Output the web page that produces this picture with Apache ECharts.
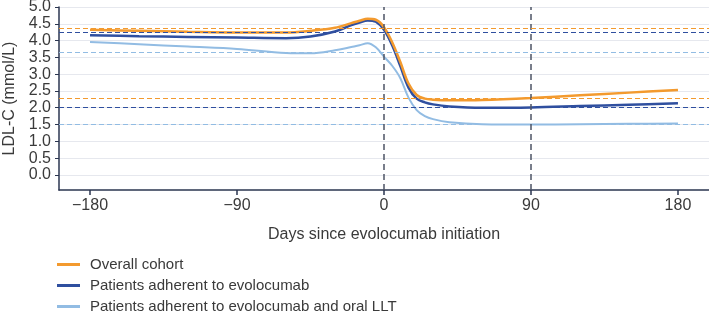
<!DOCTYPE html>
<html>
<head>
<meta charset="utf-8">
<script src="https://cdn.jsdelivr.net/npm/echarts@6/dist/echarts.min.js"></script>
<style>
  html, body { margin: 0; padding: 0; background: #fff; }
  #chart { width: 709px; height: 311px; }
</style>
</head>
<body>
<div id="chart"></div>
<script>
// days relative to evolocumab initiation
const days = [-180, -150, -120, -90, -60, -45, -30, -20, -15, -10, -5, 0, 5, 10, 15, 20, 25, 30, 40, 60, 90, 120, 150, 180]

const overall = [4.32, 4.29, 4.26, 4.24, 4.24, 4.29, 4.38, 4.52, 4.59, 4.65, 4.62, 4.40, 3.95, 3.36, 2.72, 2.38, 2.27, 2.24, 2.22, 2.23, 2.29, 2.37, 2.45, 2.53]
const adherent = [4.16, 4.13, 4.11, 4.09, 4.07, 4.12, 4.27, 4.46, 4.54, 4.60, 4.56, 4.32, 3.86, 3.24, 2.60, 2.27, 2.16, 2.10, 2.04, 2.00, 2.01, 2.05, 2.09, 2.13]
const adherentLlt = [3.96, 3.89, 3.82, 3.75, 3.63, 3.62, 3.71, 3.81, 3.86, 3.92, 3.80, 3.52, 3.25, 2.88, 2.30, 1.93, 1.75, 1.66, 1.57, 1.51, 1.50, 1.51, 1.52, 1.53]

// reference levels (before / after)
const overallRef = [4.37, 2.28]
const adherentRef = [4.25, 2.01]
const adherentLltRef = [3.65, 1.51]

const xTicks = [-180, -90, 0, 90, 180]
const yTicks = [0, 0.5, 1, 1.5, 2, 2.5, 3, 3.5, 4, 4.5, 5]
const vLines = [0, 90]

const names = ['Overall cohort', 'Patients adherent to evolocumab', 'Patients adherent to evolocumab and oral LLT']
const colors = ['#F39A2E', '#2F4F9F', '#92BCE3']

const font = 'Liberation Sans, Arial, sans-serif'

function makeSeries(name, values, refs, color, width, extra) {
  const lines = refs.map(v => ({ yAxis: v, lineStyle: { color: color, type: [5, 3], width: 1.2 } }))
  if (extra) {
    extra.forEach(v => lines.push({ xAxis: v, lineStyle: { color: '#4d5466', type: [6, 4], width: 1.5 } }))
  }
  return {
    name: name,
    type: 'line',
    smooth: 0.35,
    symbol: 'none',
    data: days.map((d, i) => [d, values[i]]),
    lineStyle: { color: color, width: width },
    itemStyle: { color: color },
    markLine: {
      silent: true,
      symbol: 'none',
      label: { show: false },
      animation: false,
      data: lines
    }
  }
}

const chart = echarts.init(document.getElementById('chart'))
chart.setOption({
  animation: false,
  color: colors,
  grid: { left: 59, right: 0, top: 7, bottom: 121, outerBoundsMode: 'none' },
  legend: {
    orient: 'vertical',
    left: 57,
    top: 257,
    height: 80,
    padding: 0,
    icon: 'rect',
    itemWidth: 23,
    itemHeight: 3,
    itemGap: 6,
    textStyle: { fontFamily: font, fontSize: 15, color: '#3a3a3a', lineHeight: 14, padding: [0, 0, 0, 5] },
    data: names
  },
  xAxis: {
    type: 'value',
    min: -199,
    max: 199,
    name: 'Days since evolocumab initiation',
    nameLocation: 'middle',
    nameGap: 37,
    nameTextStyle: { fontFamily: font, fontSize: 16, color: '#3a3a3a' },
    axisLine: { show: true, onZero: false, lineStyle: { color: '#2b3650', width: 1.5 } },
    axisTick: { show: true, customValues: xTicks, length: 5, lineStyle: { color: '#2b3650', width: 1.5 } },
    axisLabel: { customValues: xTicks, fontFamily: font, fontSize: 16, color: '#3a3a3a', margin: 8, formatter: v => String(v).replace('-', '\u2212') },
    splitLine: { show: false }
  },
  yAxis: {
    type: 'value',
    min: -0.45,
    max: 5,
    name: 'LDL-C (mmol/L)',
    nameLocation: 'middle',
    nameGap: 38,
    nameTextStyle: { fontFamily: font, fontSize: 16, color: '#3a3a3a' },
    axisLine: { show: true, onZero: false, lineStyle: { color: '#2b3650', width: 1.5 } },
    axisTick: { show: true, customValues: yTicks, length: 4, lineStyle: { color: '#2b3650', width: 1 } },
    axisLabel: { customValues: yTicks, fontFamily: font, fontSize: 16, color: '#3a3a3a', margin: 8, formatter: v => v.toFixed(1) },
    splitLine: { show: true, lineStyle: { color: '#e6e8ee', width: 1 } }
  },
  series: [
    makeSeries(names[2], adherentLlt, adherentLltRef, colors[2], 2),
    makeSeries(names[1], adherent, adherentRef, colors[1], 2.5, vLines),
    makeSeries(names[0], overall, overallRef, colors[0], 2.5)
  ]
})
</script>
</body>
</html>
